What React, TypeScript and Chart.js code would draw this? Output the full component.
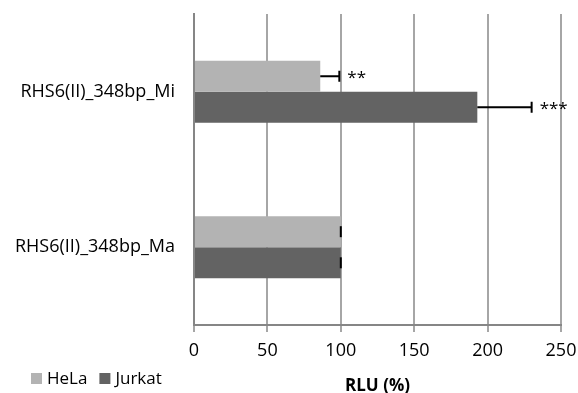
import { useEffect, useRef } from 'react';
import { Chart, registerables } from 'chart.js';

Chart.register(...registerables);

const categories = ['RHS6(II)_348bp_Mi', 'RHS6(II)_348bp_Ma'];
const seriesNames = ['HeLa', 'Jurkat'];
const seriesColors = ['#b3b3b3', '#636363'];
const helaValues = [86, 100];
const jurkatValues = [193, 100];
const helaErrors = [13, 0];
const jurkatErrors = [37, 0];
const helaMarks = ['**', ''];
const jurkatMarks = ['***', ''];
const xMin = 0;
const xMax = 250;
const xStep = 50;
const xTitle = 'RLU (%)';

const FONT = "'Open Sans', sans-serif";

// Plus-direction error bars with caps, plus significance asterisks after them
const errorBars = {
  id: 'errorBars',
  afterDatasetsDraw(chart: any) {
    const ctx = chart.ctx;
    const xs = chart.scales.x;
    chart.data.datasets.forEach((ds: any, di: number) => {
      const meta = chart.getDatasetMeta(di);
      meta.data.forEach((bar: any, i: number) => {
        const v = ds.data[i];
        const e = ds.errors[i];
        const x0 = xs.getPixelForValue(v);
        const x1 = xs.getPixelForValue(v + e);
        const y = bar.y;
        ctx.save();
        ctx.strokeStyle = '#000';
        ctx.lineWidth = 2;
        ctx.beginPath();
        ctx.moveTo(x0, y);
        ctx.lineTo(x1, y);
        ctx.moveTo(x1, y - 5.5);
        ctx.lineTo(x1, y + 5.5);
        ctx.stroke();
        const mark = ds.marks[i];
        if (mark) {
          ctx.font = `17px ${FONT}`;
          ctx.fillStyle = '#000';
          ctx.textAlign = 'left';
          ctx.textBaseline = 'alphabetic';
          ctx.fillText(mark, x1 + 8, y + 7);
        }
        ctx.restore();
      });
    });
  },
};

// Legend in the lower-left corner
const cornerLegend = {
  id: 'cornerLegend',
  afterDraw(chart: any) {
    const ctx = chart.ctx;
    let x = 31;
    const y = 373;
    ctx.save();
    ctx.font = `17px ${FONT}`;
    ctx.textAlign = 'left';
    ctx.textBaseline = 'middle';
    chart.data.datasets.forEach((ds: any) => {
      ctx.fillStyle = ds.backgroundColor;
      ctx.fillRect(x, y, 11, 11);
      ctx.fillStyle = '#000';
      ctx.fillText(ds.label, x + 16, y + 6.5);
      x += 16 + ctx.measureText(ds.label).width + 12;
    });
    ctx.restore();
  },
};

function clearScalePadding(scale: any) {
  scale.paddingTop = 0;
  scale.paddingBottom = 0;
  scale.paddingLeft = 0;
  scale.paddingRight = 0;
}

export default function App() {
  const ref = useRef<HTMLCanvasElement>(null);

  useEffect(() => {
    document.body.style.margin = '0';
    const chart = new Chart(ref.current!, {
      type: 'bar',
      data: {
        labels: categories,
        datasets: [
          {
            label: seriesNames[0],
            data: helaValues,
            backgroundColor: seriesColors[0],
            errors: helaErrors,
            marks: helaMarks,
          } as any,
          {
            label: seriesNames[1],
            data: jurkatValues,
            backgroundColor: seriesColors[1],
            errors: jurkatErrors,
            marks: jurkatMarks,
          } as any,
        ],
      },
      options: {
        indexAxis: 'y',
        responsive: false,
        animation: false,
        categoryPercentage: 0.4,
        barPercentage: 1,
        layout: { padding: { top: 14, right: 17, bottom: 0, left: 0 } },
        plugins: {
          legend: { display: false },
          tooltip: { enabled: false },
        },
        scales: {
          x: {
            min: xMin,
            max: xMax,
            ticks: {
              stepSize: xStep,
              color: '#000',
              padding: 8,
              font: { family: FONT, size: 18 },
            },
            grid: {
              color: '#a6a6a6',
              lineWidth: 2,
              drawTicks: true,
              tickLength: 7,
            },
            border: { display: true, color: '#868686', width: 2 },
            title: {
              display: true,
              text: xTitle,
              color: '#000',
              font: { family: FONT, size: 17, weight: 'bold' },
              padding: { top: 0, bottom: -3 },
            },
            afterFit(scale: any) {
              scale.height = 68;
              clearScalePadding(scale);
            },
          },
          y: {
            ticks: {
              color: '#000',
              padding: 19,
              font: { family: FONT, size: 18 },
            },
            grid: { display: false, drawTicks: false, tickLength: 0 },
            border: { display: true, color: '#868686', width: 2 },
            afterFit(scale: any) {
              scale.width = 194;
              clearScalePadding(scale);
            },
          },
        },
      },
      plugins: [errorBars, cornerLegend],
    });
    return () => chart.destroy();
  }, []);

  return <canvas ref={ref} width={578} height={393} />;
}
